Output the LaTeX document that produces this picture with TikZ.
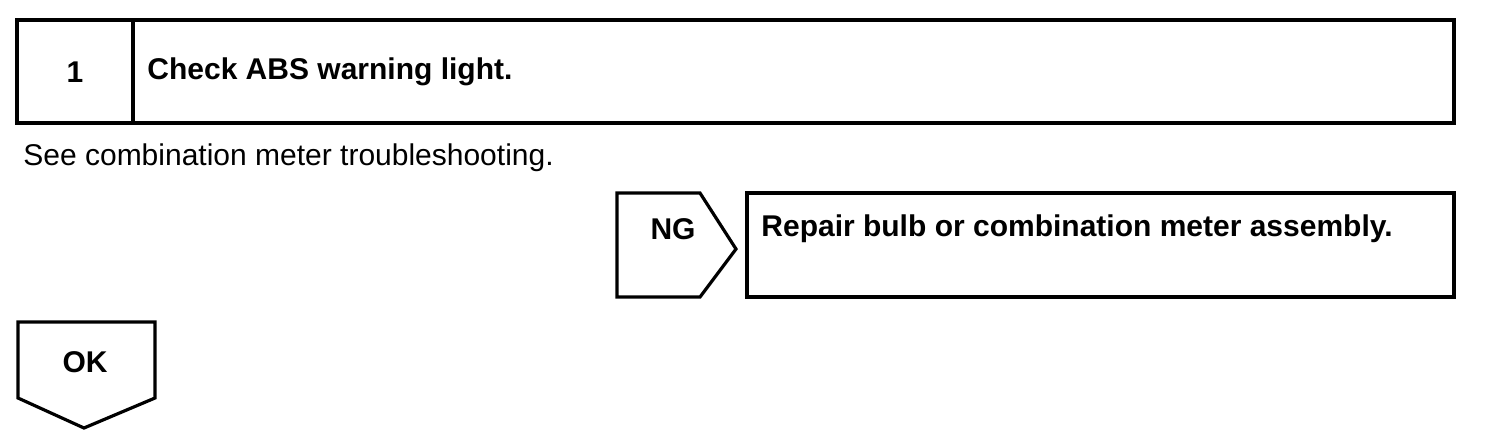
\documentclass[tikz,border=0pt]{standalone}
\usepackage{fontspec}
\setmainfont{Liberation Sans}
\usepackage{tikz}
\usetikzlibrary{calc,positioning}
\tikzset{
  frame/.style={draw,line width=1.6pt,line join=miter},
  steptext/.style={font=\bfseries\fontsize{15}{17}\selectfont,inner sep=0pt},
  note/.style={font=\fontsize{15}{17}\selectfont,inner sep=0pt}
}

\begin{document}
\begin{tikzpicture}[x=0.5pt,y=-0.5pt]
\useasboundingbox (0,0) rectangle (1504,440);
% step header
\draw[frame] (17,20) rectangle (1454,123);
\draw[frame] (133,20) -- (133,123);
\node[steptext] (num) at (75,72) {1};
\node[steptext,anchor=west] (title) at (147,72) {Check ABS warning light.};
\node[note,anchor=base west] (see) at (23,165) {See combination meter troubleshooting.};
% NG branch
\draw[frame] (617,193) -- (700,193) -- (736,249) -- (700,297) -- (617,297) -- cycle;
\node[steptext] (ng) at (673,229) {NG};
\draw[frame] (747,193) rectangle (1454,297);
\node[steptext,anchor=west] (repair) at (761,229) {Repair bulb or combination meter assembly.};
% OK branch
\draw[frame] (18,322) -- (155,322) -- (155,398) -- (84,428) -- (18,398) -- cycle;
\node[steptext] (ok) at (85,362) {OK};
%\node[steptext] (next) below=of ok {};
\end{tikzpicture}
\end{document}
